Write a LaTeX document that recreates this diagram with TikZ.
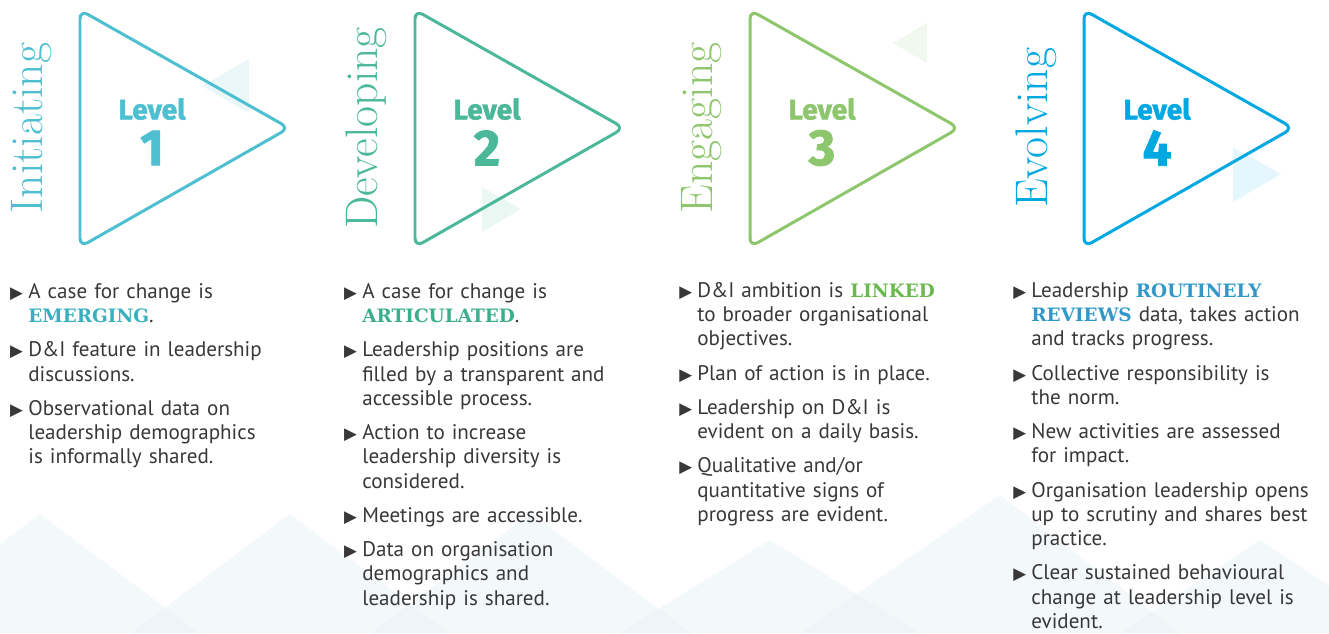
\documentclass[tikz,border=0pt]{standalone}
\usepackage{fontspec}
\newfontfamily\bodyfont{PT Sans}
\newfontfamily\levelfont{Fira Sans}[BoldFeatures={FakeBold=1.6}]
\newfontfamily\slabfont{DejaVu Serif}
\newfontfamily\symfont{DejaVu Sans}

\definecolor{initc}{HTML}{4DBFD0}
\definecolor{devc}{HTML}{4CB89A}
\definecolor{engc}{HTML}{8DC66D}
\definecolor{evoc}{HTML}{00A8E1}
\definecolor{inith}{HTML}{3AAFBE}
\definecolor{devh}{HTML}{3DAE8C}
\definecolor{engh}{HTML}{6BB84F}
\definecolor{evoh}{HTML}{3398C8}
\definecolor{txt}{HTML}{383838}
\definecolor{hillc}{HTML}{E8F1F6}

\newcommand\bul{\leavevmode\llap{\symfont\fontsize{9.5}{9.5}\selectfont ▶\hspace{3pt}}}
\newcommand\hl[2]{{\slabfont\bfseries\fontsize{10.5}{10.5}\selectfont\color{#1}#2}}

\begin{document}
\begin{tikzpicture}[x=0.02cm, y=-0.02cm,
  word/.style={rotate=90, anchor=base, inner sep=0pt, font=\fontsize{26}{26}\selectfont},
  lvl/.style={font=\levelfont\bfseries\fontsize{16}{16}\selectfont},
  num/.style={font=\levelfont\bfseries\fontsize{29}{29}\selectfont},
  outline/.style={line width=1.7pt, rounded corners=5pt, line join=round},
  items/.style={anchor=north west, inner sep=0pt, text width=6.2cm, align=left,
    text=txt, font=\bodyfont\fontsize{12}{13.8}\selectfont},
  hill/.style={fill=hillc, fill opacity=0.5}
]
  \useasboundingbox (0,0) rectangle (1329,633);

  \fill[hill] (-119,633) -- (40,514) -- (199,633) -- cycle;
  \fill[hill] (131,633) -- (290,514) -- (449,633) -- cycle;
  \fill[hill] (371,633) -- (531,513) -- (691,633) -- cycle;
  \fill[hill] (620,633) -- (770,540) -- (920,633) -- cycle;
  \fill[hill] (800,633) -- (1000,495) -- (1180,633) -- cycle;
  \fill[hill] (1120,633) -- (1260,540) -- (1400,633) -- cycle;

  \fill[initc!12] (249,59) -- (249,113) -- (202,86) -- cycle;
  \fill[devc!12] (482,187) -- (482,232) -- (521,209) -- cycle;
  \fill[engc!12] (927,23) -- (927,63) -- (893,43) -- cycle;
  \fill[evoc!10] (1233,147) -- (1233,202) -- (1281,174) -- cycle;

  \draw[outline, initc] (80,10) -- (289,128) -- (80,247) -- cycle;
  \draw[outline, devc] (415,10) -- (624,128) -- (415,247) -- cycle;
  \draw[outline, engc] (750,10) -- (959,128) -- (750,247) -- cycle;
  \draw[outline, evoc] (1084,10) -- (1293,128) -- (1084,247) -- cycle;

  \node[word, text=initc] (init) at (42,128) {Initiating};
  \node[word, text=devc] (dev) at (377,128) {Developing};
  \node[word, text=engc] (eng) at (712,128) {Engaging};
  \node[word, text=evoc] (evo) at (1047,128) {Evolving};

  \node[lvl, text=initc] (lvl1) at (152,109) {Level};
  \node[num, text=initc] (num1) at (152,148) {1};
  \node[lvl, text=devc] (lvl2) at (487,109) {Level};
  \node[num, text=devc] (num2) at (487,148) {2};
  \node[lvl, text=engc] (lvl3) at (822,109) {Level};
  \node[num, text=engc] (num3) at (822,148) {3};
  \node[lvl, text=evoc] (lvl4) at (1157,109) {Level};
  \node[num, text=evoc] (num4) at (1157,148) {4};

  \node[items] (list1) at (28,283) {%
    \bul A case for change is\\ \hl{inith}{EMERGING}.\\[5.7pt]
    \bul D\&I feature in leadership\\ discussions.\\[5.7pt]
    \bul Observational data on\\ leadership demographics\\ is informally shared.};
  \node[items] (list2) at (362,283) {%
    \bul A case for change is\\ \hl{devh}{ARTICULATED}.\\[5.7pt]
    \bul Leadership positions are\\ filled by a transparent and\\ accessible process.\\[5.7pt]
    \bul Action to increase\\ leadership diversity is\\ considered.\\[5.7pt]
    \bul Meetings are accessible.\\[5.7pt]
    \bul Data on organisation\\ demographics and\\ leadership is shared.};
  \node[items] (list3) at (697,282) {%
    \bul D\&I ambition is \hl{engh}{LINKED}\\ to broader organisational\\ objectives.\\[5.7pt]
    \bul Plan of action is in place.\\[5.7pt]
    \bul Leadership on D\&I is\\ evident on a daily basis.\\[5.7pt]
    \bul Qualitative and/or\\ quantitative signs of\\ progress are evident.};
  \node[items] (list4) at (1031,282) {%
    \bul Leadership \hl{evoh}{ROUTINELY}\\ \hl{evoh}{REVIEWS} data, takes action\\ and tracks progress.\\[5.7pt]
    \bul Collective responsibility is\\ the norm.\\[5.7pt]
    \bul New activities are assessed\\ for impact.\\[5.7pt]
    \bul Organisation leadership opens\\ up to scrutiny and shares best\\ practice.\\[5.7pt]
    \bul Clear sustained behavioural\\ change at leadership level is\\ evident.};
\end{tikzpicture}
\end{document}
